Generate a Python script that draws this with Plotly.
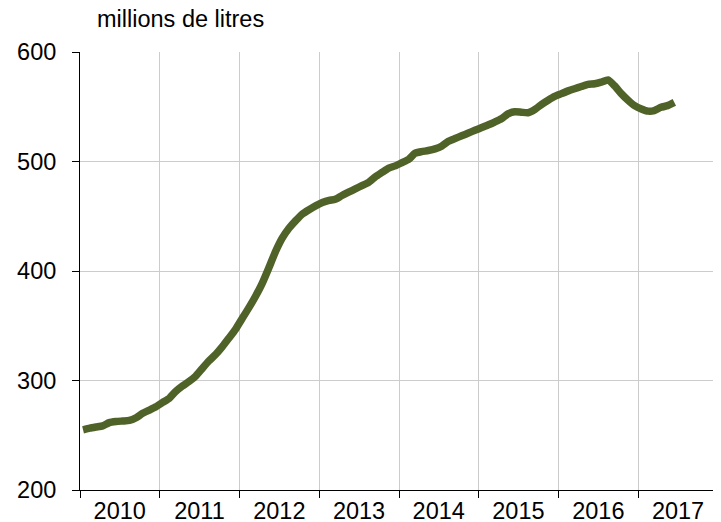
import pandas as pd
import plotly.graph_objects as go

# Monthly volume, millions of litres, Jan 2010 - Jun 2017
values = [
    255, 256.5, 257.5, 258.5, 261.5, 262.5, 263, 263.5, 266, 270, 273, 276,   # 2010
    280, 284, 290, 295, 299, 304, 311, 318, 324, 331, 339, 347,               # 2011
    357, 367, 377, 389, 403, 418, 430, 439, 446, 452, 456, 459.5,             # 2012
    462.5, 464.5, 465.5, 469, 472, 475, 478, 481, 486, 490, 494, 496,         # 2013
    499, 502, 507.5, 509, 510, 511.5, 514, 518.5, 521, 523.5, 526, 528.5,     # 2014
    531, 533.5, 536, 539, 543.5, 545.5, 545, 544.5, 547.5, 552, 556, 559.5,   # 2015
    562, 564.5, 566.5, 568.5, 570.5, 571, 572.5, 574.5, 569, 562, 556, 551,   # 2016
    548, 546, 546.5, 549.5, 551, 554,                                          # 2017
]
first_month = "2010-01-01"
months = pd.date_range(first_month, periods=len(values), freq="MS") + pd.Timedelta(days=14)

years = [2010, 2011, 2012, 2013, 2014, 2015, 2016, 2017]
year_labels = [str(y) for y in years]
y_ticks = [200, 300, 400, 500, 600]
unit_label = "millions de litres"

label_pos = [f"{y}-07-02" for y in years]
boundaries = [f"{y}-01-01" for y in years + [2018]]

fig = go.Figure()
fig.add_trace(go.Scatter(
    x=months, y=values, mode="lines",
    line=dict(color="#4f6228", width=7.5, shape="spline", smoothing=0.5),
    hoverinfo="skip", showlegend=False,
))

font_family = "Liberation Sans, Arial, sans-serif"
FS = 23.5
# the page body adds an 8px offset, so the figure is 8px smaller on each leading side
fig.update_layout(
    width=713, height=514,
    margin=dict(l=72, r=3, t=44, b=32, autoexpand=False),
    paper_bgcolor="white", plot_bgcolor="white",
    font=dict(family=font_family, size=FS, color="#000000"),
    xaxis=dict(
        type="date", automargin=False,
        range=["2010-01-01", "2018-01-01"],
        tickmode="array", tickvals=label_pos, ticktext=year_labels,
        ticks="", showgrid=False,
        showline=True, linecolor="#000000", linewidth=1,
        tickfont=dict(size=FS),
        ticklabelstandoff=0,
        minor=dict(tickmode="array", tickvals=boundaries, ticks="outside",
                   ticklen=7, tickcolor="#000000", tickwidth=1,
                   showgrid=True, gridcolor="#cccccc", gridwidth=1),
        fixedrange=True,
    ),
    yaxis=dict(
        range=[200, 600], tickvals=y_ticks, automargin=False,
        ticks="outside", ticklen=7, tickcolor="#000000",
        showgrid=True, gridcolor="#cccccc", gridwidth=1,
        showline=True, linecolor="#000000", linewidth=1,
        zeroline=False, tickfont=dict(size=FS),
        ticklabelstandoff=11,
        fixedrange=True,
    ),
    annotations=[dict(
        text=unit_label, xref="paper", yref="paper",
        x=(87 - 72) / 638, y=1, yshift=18, xanchor="left", yanchor="bottom",
        showarrow=False, font=dict(size=FS, color="#000000"),
    )],
)

fig.write_html("out.html")
